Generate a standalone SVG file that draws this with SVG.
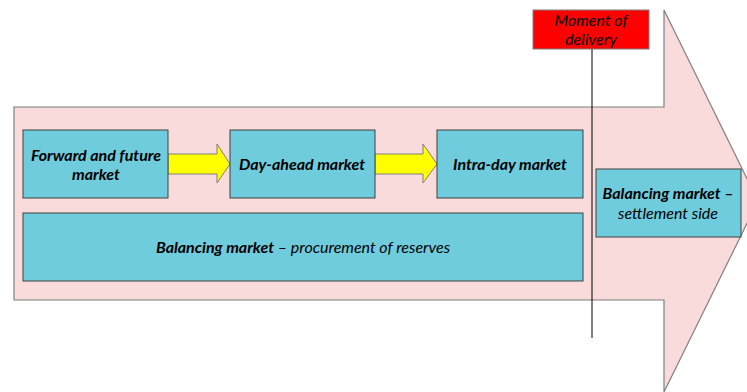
<svg xmlns="http://www.w3.org/2000/svg" width="747" height="392" viewBox="0 0 747 392">
<style>
.box{fill:#6FCCDD;stroke:#404040;stroke-width:1}
.t{font-family:Lato,"Open Sans",sans-serif;font-style:italic;font-size:16px;fill:#000;text-anchor:middle;dominant-baseline:central}
.b{font-weight:bold}
.ya{fill:#FFFF00;stroke:#7F7F7F;stroke-width:1}
</style>
<rect width="747" height="392" fill="#fff"/>
<g id="timeline">
<polygon points="14,107 664,107 664,10 758,201 664,392 664,300 14,300" fill="#F9DBDB" stroke="#7F7F7F" stroke-width="1.2"/>
</g>
<g id="connectors">
<polygon class="ya" points="168,154 217,154 217,144 230,164 217,183 217,174 168,174"/>
<polygon class="ya" points="375,154 423,154 423,144 437,164 423,183 423,174 375,174"/>
<line x1="592" y1="49" x2="592" y2="338" stroke="#000" stroke-width="1"/>
</g>
<g id="forward">
<rect class="box" x="23" y="130" width="145" height="68"/>
<text class="t b" x="96" y="154">Forward and future</text>
<text class="t b" x="96" y="173">market</text>
</g>
<g id="dayahead">
<rect class="box" x="230" y="130" width="145" height="68"/>
<text class="t b" x="302" y="163">Day-ahead market</text>
</g>
<g id="intraday">
<rect class="box" x="437" y="130" width="146" height="68"/>
<text class="t b" x="510" y="163">Intra-day market</text>
</g>
<g id="procurement">
<rect class="box" x="23" y="213" width="560" height="68"/>
<text class="t" x="303" y="246"><tspan class="b">Balancing market</tspan> – procurement of reserves</text>
</g>
<g id="settlement">
<rect class="box" x="596" y="169" width="145" height="68"/>
<text class="t b" x="668" y="192">Balancing market –</text>
<text class="t" x="668" y="212">settlement side</text>
</g>
<g id="delivery">
<rect x="533" y="10" width="116" height="39" fill="#FF0000" stroke="#7F7F7F" stroke-width="1"/>
<text class="t" x="591" y="19">Moment of</text>
<text class="t" x="591" y="38">delivery</text>
</g>
</svg>
